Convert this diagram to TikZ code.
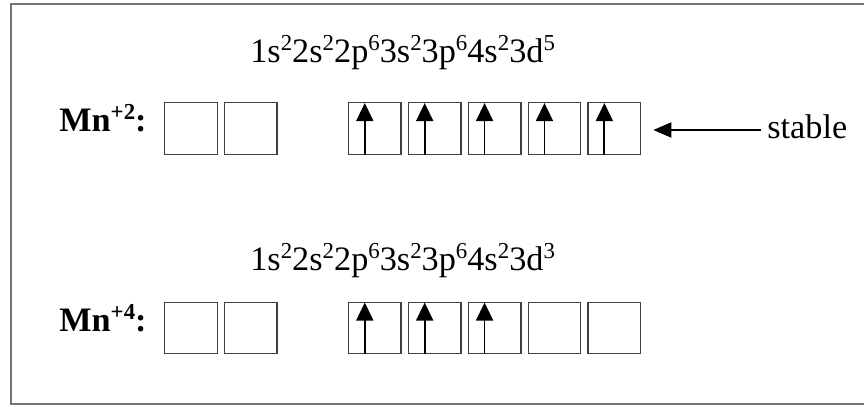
\documentclass[tikz,border=0pt]{standalone}
\usepackage{fontspec}
\setmainfont{Liberation Serif}
\usetikzlibrary{positioning,arrows.meta}
\newcommand{\sups}[1]{\raisebox{0.33em}{\fontsize{13}{13}\selectfont #1}}

\begin{document}
\begin{tikzpicture}[
    x=0.02cm, y=-0.02cm,
    node distance=0.12cm,
    orbital/.style={rectangle, draw=black!75, line width=0.8pt, minimum width=1.05cm, minimum height=1.03cm, inner sep=0pt},
    config/.style={anchor=base west, inner sep=0pt, font=\fontsize{19.5}{23}\selectfont},
    ion/.style={anchor=base west, inner sep=0pt, font=\fontsize{19.5}{23}\selectfont\bfseries},
    spin/.style={-{Triangle[length=0.36cm, width=0.34cm]}, line width=1pt},
    arrow/.style={-{Triangle[length=0.36cm, width=0.3cm]}, line width=1pt}
]
    \useasboundingbox (0,0) rectangle (864,406);
    \draw[black!55, line width=1.1pt] (864,4) -- (11,4) -- (11,404) -- (864,404);

    % Mn+2
    \node[config] (cfg1) at (250,62) {1s\sups{2}2s\sups{2}2p\sups{6}3s\sups{2}3p\sups{6}4s\sups{2}3d\sups{5}};
    \node[ion] (ion1) at (59,131) {Mn\sups{+2}:};
    \node[orbital] (a1) at (191,128.5) {};
    \node[orbital, right=of a1] (a2) {};
    \node[orbital, right=1.4cm of a2] (a3) {};
    \node[orbital, right=of a3] (a4) {};
    \node[orbital, right=of a4] (a5) {};
    \node[orbital, right=of a5] (a6) {};
    \node[orbital, right=of a6] (a7) {};
    \draw[spin] ([xshift=-0.2cm]a3.south) -- ([xshift=-0.2cm, yshift=-0.02cm]a3.north);
    \draw[spin] ([xshift=-0.2cm]a4.south) -- ([xshift=-0.2cm, yshift=-0.02cm]a4.north);
    \draw[spin] ([xshift=-0.2cm]a5.south) -- ([xshift=-0.2cm, yshift=-0.02cm]a5.north);
    \draw[spin] ([xshift=-0.2cm]a6.south) -- ([xshift=-0.2cm, yshift=-0.02cm]a6.north);
    \draw[spin] ([xshift=-0.2cm]a7.south) -- ([xshift=-0.2cm, yshift=-0.02cm]a7.north);
    \node[config] (stable) at (767,138) {stable};
    \coordinate (tail) at (761,130);
    \draw[arrow, shorten >=0.24cm] (tail) -- (tail -| a7.east);

    % Mn+4
    \node[config] (cfg2) at (250,270) {1s\sups{2}2s\sups{2}2p\sups{6}3s\sups{2}3p\sups{6}4s\sups{2}3d\sups{3}};
    \node[ion] (ion2) at (59,331) {Mn\sups{+4}:};
    \node[orbital] (b1) at (191,328) {};
    \node[orbital, right=of b1] (b2) {};
    \node[orbital, right=1.4cm of b2] (b3) {};
    \node[orbital, right=of b3] (b4) {};
    \node[orbital, right=of b4] (b5) {};
    \node[orbital, right=of b5] (b6) {};
    \node[orbital, right=of b6] (b7) {};
    \draw[spin] ([xshift=-0.2cm]b3.south) -- ([xshift=-0.2cm, yshift=-0.02cm]b3.north);
    \draw[spin] ([xshift=-0.2cm]b4.south) -- ([xshift=-0.2cm, yshift=-0.02cm]b4.north);
    \draw[spin] ([xshift=-0.2cm]b5.south) -- ([xshift=-0.2cm, yshift=-0.02cm]b5.north);
\end{tikzpicture}
\end{document}
